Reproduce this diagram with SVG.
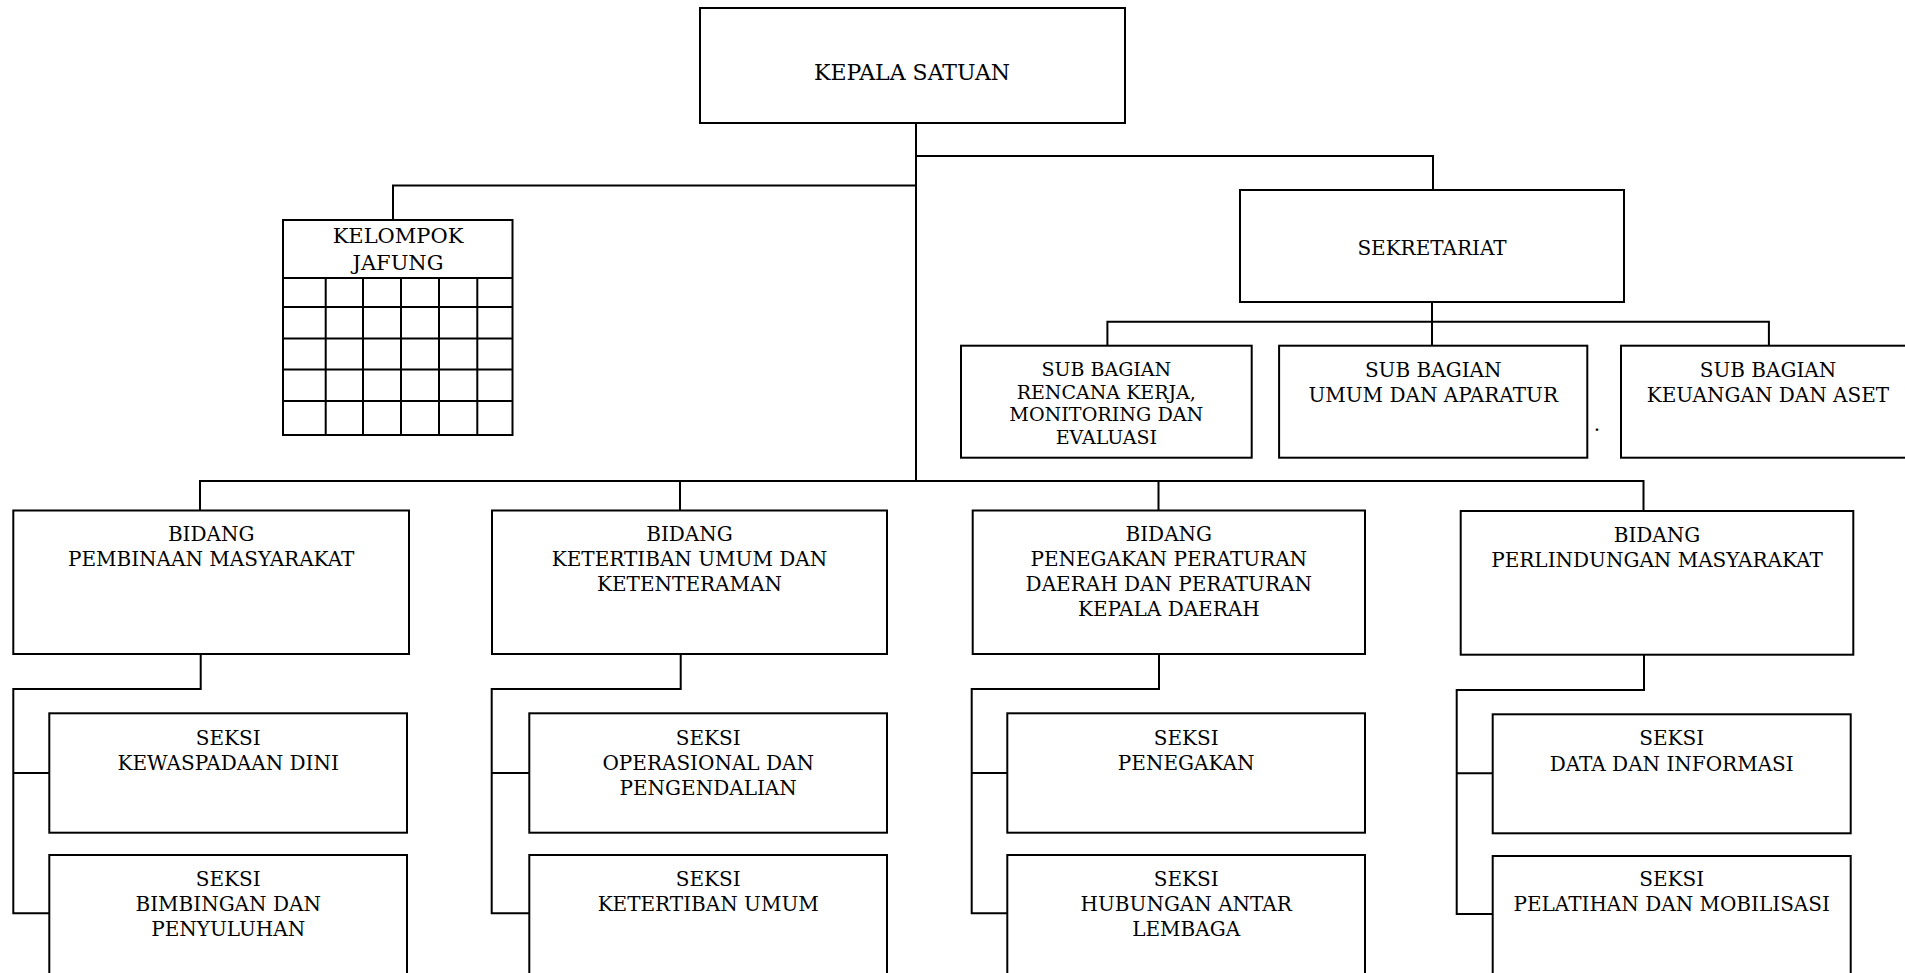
<svg xmlns="http://www.w3.org/2000/svg" width="1905" height="973" viewBox="0 0 1905 973">
<style>
  .box { fill: #ffffff; stroke: #000000; stroke-width: 2; }
  .ln { fill: none; stroke: #000000; stroke-width: 2; }
  text { font-family: "DejaVu Serif", "Liberation Serif", serif; font-size: 20px; fill: #000000; text-anchor: middle; }
  .big { font-size: 22px; }
  .mid { font-size: 21px; }
  .sm { font-size: 19px; }
</style>
<rect x="0" y="0" width="1905" height="973" fill="#ffffff"/>
<g id="connectors">
  <path class="ln" d="M916 123 V481"/>
  <path class="ln" d="M916 156 H1433 V190"/>
  <path class="ln" d="M916 185.5 H393 V220"/>
  <path class="ln" d="M1432 302 V345.7"/>
  <path class="ln" d="M1107.4 345.7 V321.7 H1768.9 V345.7"/>
  <path class="ln" d="M200 510.5 V481 H1643.5 V511"/>
  <path class="ln" d="M680 481 V510.5"/>
  <path class="ln" d="M1158.5 481 V510.5"/>
  <path class="ln" d="M200.7 654 V689 H13.3 V913.3 H49.3 M13.3 773 H49.3"/>
  <path class="ln" d="M680.7 654 V689 H491.7 V913.3 H529.3 M491.7 773 H529.3"/>
  <path class="ln" d="M1159 654 V689 H971.7 V913.3 H1007.3 M971.7 773 H1007.3"/>
  <path class="ln" d="M1644 654.7 V690 H1456.7 V914 H1492.7 M1456.7 773.3 H1492.7"/>
</g>
<g id="kepala-satuan">
  <rect class="box" x="700" y="8" width="425" height="115"/>
  <text class="big" x="912" y="80">KEPALA SATUAN</text>
</g>
<g id="kelompok-jafung">
  <rect class="box" x="283" y="220" width="229.5" height="215"/>
  <path class="ln" d="M283 278 H512.5 M283 307 H512.5 M283 338.5 H512.5 M283 369.5 H512.5 M283 401 H512.5 M325.7 278 V435 M363 278 V435 M401 278 V435 M439 278 V435 M477.3 278 V435"/>
  <text class="mid" x="398" y="242.7">KELOMPOK</text>
  <text class="mid" x="398" y="270">JAFUNG</text>
</g>
<g id="sekretariat">
  <rect class="box" x="1240" y="190" width="384" height="112"/>
  <text x="1432" y="255">SEKRETARIAT</text>
</g>
<g id="subbag-renja">
  <rect class="box" x="961" y="345.7" width="290.7" height="112"/>
  <text class="sm" x="1106.3" y="376">SUB BAGIAN</text>
  <text class="sm" x="1106.3" y="398.5">RENCANA KERJA,</text>
  <text class="sm" x="1106.3" y="421" textLength="194" lengthAdjust="spacingAndGlyphs">MONITORING DAN</text>
  <text class="sm" x="1106.3" y="443.5">EVALUASI</text>
</g>
<g id="subbag-umum">
  <rect class="box" x="1279.1" y="345.7" width="308.2" height="112"/>
  <text x="1433.2" y="376.7">SUB BAGIAN</text>
  <text x="1433.2" y="401.7">UMUM DAN APARATUR</text>
  <text x="1597" y="431">.</text>
</g>
<g id="subbag-keuangan">
  <rect class="box" x="1621" y="345.7" width="295" height="112"/>
  <text x="1768" y="376.7">SUB BAGIAN</text>
  <text x="1768" y="401.7">KEUANGAN DAN ASET</text>
</g>
<g id="bidang-pembinaan">
  <rect class="box" x="13.3" y="510.5" width="395.7" height="143.5"/>
  <text x="211.2" y="541">BIDANG</text>
  <text x="211.2" y="566">PEMBINAAN MASYARAKAT</text>
</g>
<g id="bidang-ketertiban">
  <rect class="box" x="492" y="510.5" width="395" height="143.5"/>
  <text x="689.5" y="541">BIDANG</text>
  <text x="689.5" y="566">KETERTIBAN UMUM DAN</text>
  <text x="689.5" y="591">KETENTERAMAN</text>
</g>
<g id="bidang-penegakan">
  <rect class="box" x="972.7" y="510.5" width="392.3" height="143.5"/>
  <text x="1168.8" y="541">BIDANG</text>
  <text x="1168.8" y="566">PENEGAKAN PERATURAN</text>
  <text x="1168.8" y="591">DAERAH DAN PERATURAN</text>
  <text x="1168.8" y="616">KEPALA DAERAH</text>
</g>
<g id="bidang-perlindungan">
  <rect class="box" x="1460.7" y="511" width="392.6" height="143.7"/>
  <text x="1657" y="541.7">BIDANG</text>
  <text x="1657" y="566.7">PERLINDUNGAN MASYARAKAT</text>
</g>
<g id="seksi-kewaspadaan">
  <rect class="box" x="49.3" y="713.3" width="357.7" height="119.4"/>
  <text x="228.2" y="745">SEKSI</text>
  <text x="228.2" y="770">KEWASPADAAN DINI</text>
</g>
<g id="seksi-bimbingan">
  <rect class="box" x="49.3" y="855" width="357.7" height="140"/>
  <text x="228.2" y="886">SEKSI</text>
  <text x="228.2" y="911">BIMBINGAN DAN</text>
  <text x="228.2" y="936">PENYULUHAN</text>
</g>
<g id="seksi-operasional">
  <rect class="box" x="529.3" y="713.3" width="357.7" height="119.4"/>
  <text x="708.2" y="745">SEKSI</text>
  <text x="708.2" y="770">OPERASIONAL DAN</text>
  <text x="708.2" y="795">PENGENDALIAN</text>
</g>
<g id="seksi-ketertiban-umum">
  <rect class="box" x="529.3" y="855" width="357.7" height="140"/>
  <text x="708.2" y="886">SEKSI</text>
  <text x="708.2" y="911">KETERTIBAN UMUM</text>
</g>
<g id="seksi-penegakan">
  <rect class="box" x="1007.3" y="713.3" width="357.7" height="119.4"/>
  <text x="1186.2" y="745">SEKSI</text>
  <text x="1186.2" y="770">PENEGAKAN</text>
</g>
<g id="seksi-hubungan">
  <rect class="box" x="1007.3" y="855" width="357.7" height="140"/>
  <text x="1186.2" y="886">SEKSI</text>
  <text x="1186.2" y="911">HUBUNGAN ANTAR</text>
  <text x="1186.2" y="936">LEMBAGA</text>
</g>
<g id="seksi-data">
  <rect class="box" x="1492.7" y="714.3" width="358" height="119"/>
  <text x="1671.7" y="745">SEKSI</text>
  <text x="1671.7" y="771">DATA DAN INFORMASI</text>
</g>
<g id="seksi-pelatihan">
  <rect class="box" x="1492.7" y="856" width="358" height="140"/>
  <text x="1671.7" y="886">SEKSI</text>
  <text x="1671.7" y="911">PELATIHAN DAN MOBILISASI</text>
</g>
</svg>
